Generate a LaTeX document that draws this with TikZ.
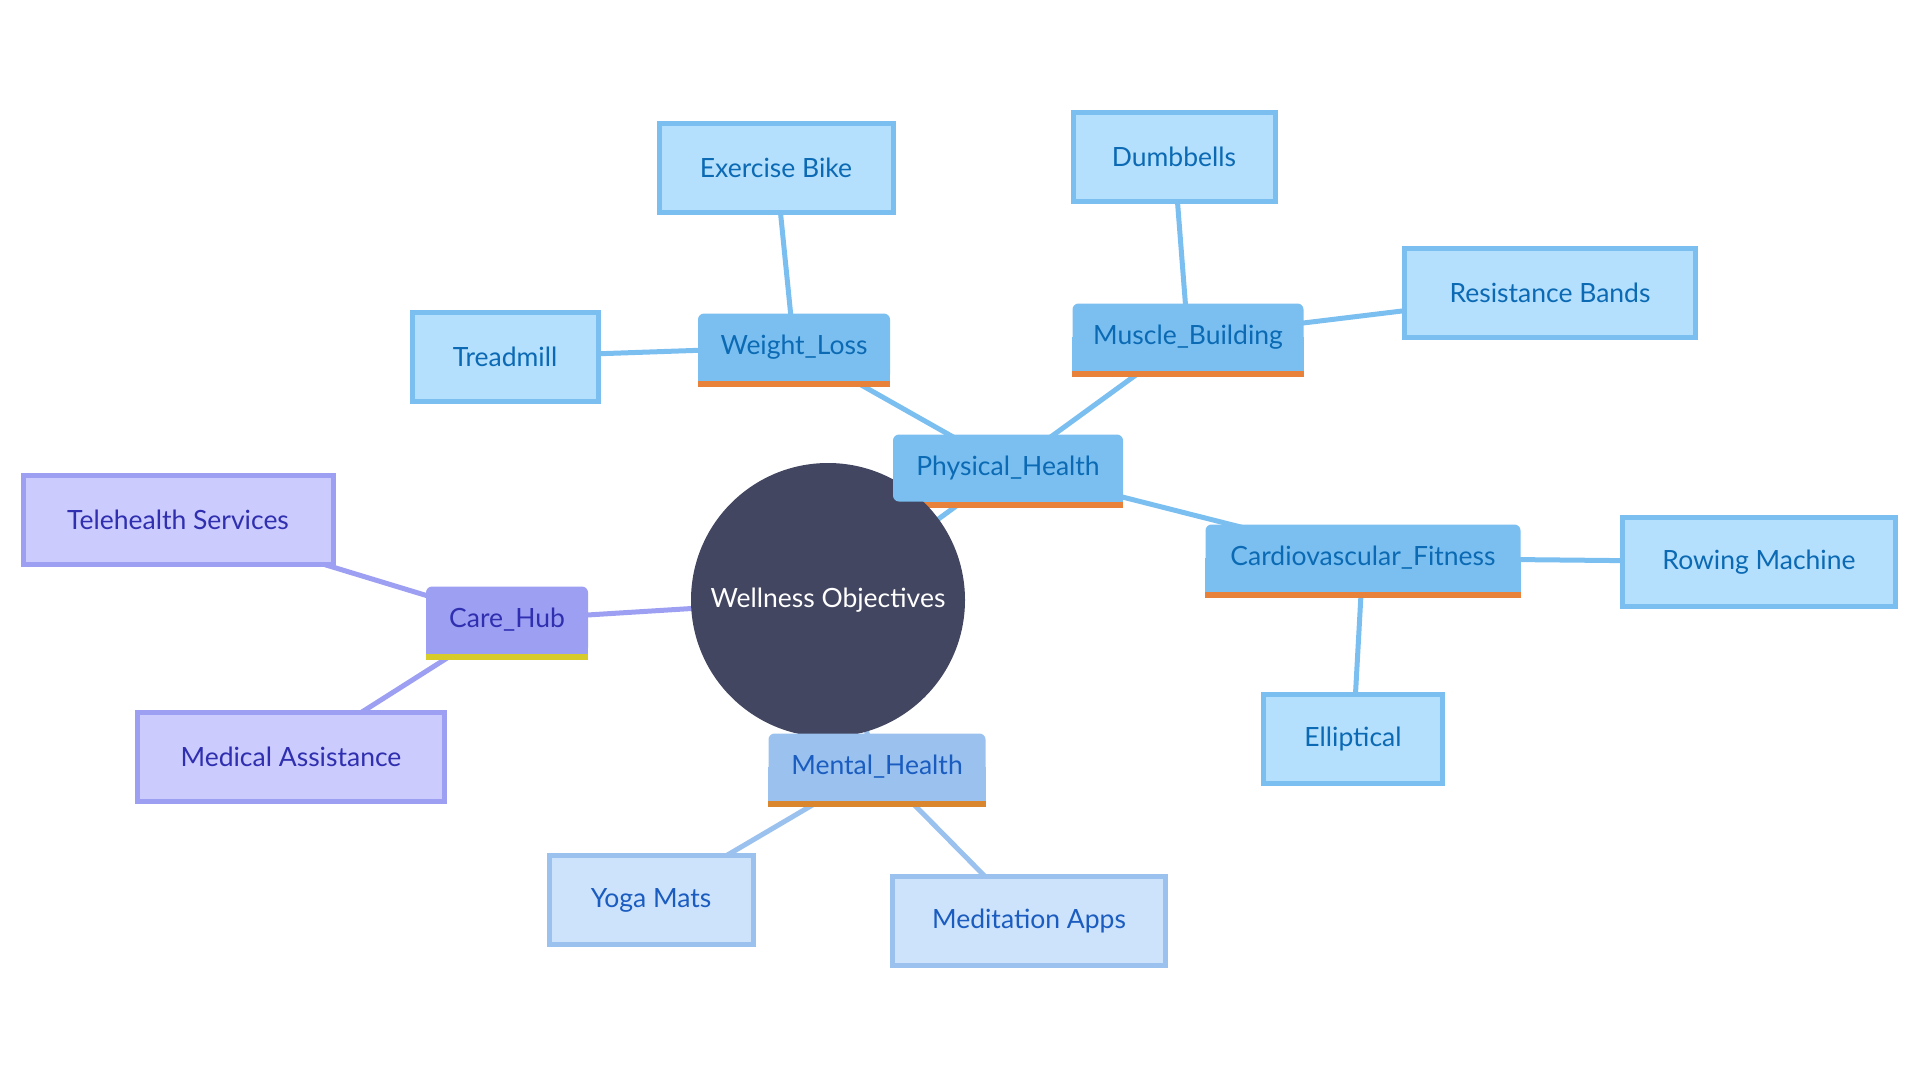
\documentclass[tikz,border=0pt]{standalone}
\usepackage{fontspec}
\setmainfont{Lato}
\pgfdeclarelayer{edgelayer}
\pgfdeclarelayer{filllayer}
\pgfsetlayers{edgelayer,filllayer,main}
\definecolor{rootfill}{HTML}{424660}
\definecolor{phfill}{HTML}{7ABFF0}
\definecolor{phleaf}{HTML}{B4DFFD}
\definecolor{phtext}{HTML}{0B6AB3}
\definecolor{phbar}{HTML}{E8823A}
\definecolor{mhfill}{HTML}{9BC2EF}
\definecolor{mhleaf}{HTML}{CDE2FB}
\definecolor{mhtext}{HTML}{1A5CBF}
\definecolor{mhbar}{HTML}{D9862E}
\definecolor{chfill}{HTML}{9D9FF2}
\definecolor{chleaf}{HTML}{CBCBFD}
\definecolor{chtext}{HTML}{2F2FB0}
\definecolor{chbar}{HTML}{D6CB2B}
\tikzset{
  txt/.style={font=\fontsize{26.5}{30}\selectfont},
  sec/.style={txt, rounded corners=6pt, minimum height=67pt, inner sep=0pt},
  phsec/.style={sec, fill=phfill, text=phtext},
  mhsec/.style={sec, fill=mhfill, text=mhtext},
  chsec/.style={sec, fill=chfill, text=chtext},
  leafbox/.style={txt, draw, line width=5pt, minimum height=89pt, inner sep=0pt},
  phlf/.style={leafbox, fill=phleaf, draw=phfill, text=phtext},
  mhlf/.style={leafbox, fill=mhleaf, draw=mhfill, text=mhtext},
  chlf/.style={leafbox, fill=chleaf, draw=chfill, text=chtext},
  edge/.style={line width=5pt},
  phedge/.style={edge, draw=phfill},
  mhedge/.style={edge, draw=mhfill},
  chedge/.style={edge, draw=chfill},
}
\begin{document}
\begin{tikzpicture}[x=1pt,y=-1pt]
\useasboundingbox (0,0) rectangle (1920,1080);
% root
\node[circle, fill=rootfill, minimum size=274pt, inner sep=0pt, text=white, txt] (root) at (828,600) {Wellness Objectives};
% sections
\node[phsec, minimum width=230pt] (ph) at (1008,468) {Physical\_Health};
\node[phsec, minimum width=192pt] (wl) at (794,347) {Weight\_Loss};
\node[phsec, minimum width=231pt] (mb) at (1188,337) {Muscle\_Building};
\node[phsec, minimum width=315pt] (cf) at (1363,558) {Cardiovascular\_Fitness};
\node[chsec, minimum width=162pt] (ch) at (507,620) {Care\_Hub};
\node[mhsec, minimum width=217pt] (mh) at (877,767) {Mental\_Health};
% leaves
\node[phlf, minimum width=234pt] (eb) at (776,168) {Exercise Bike};
\node[phlf, minimum width=186pt] (tm) at (505,357) {Treadmill};
\node[phlf, minimum width=202pt] (db) at (1174,157) {Dumbbells};
\node[phlf, minimum width=291pt] (rb) at (1550,293) {Resistance Bands};
\node[phlf, minimum width=273pt] (rm) at (1759,562) {Rowing Machine};
\node[phlf, minimum width=179pt] (el) at (1353,739) {Elliptical};
\node[chlf, minimum width=310pt] (ts) at (178,520) {Telehealth Services};
\node[chlf, minimum width=307pt] (ma) at (291,757) {Medical Assistance};
\node[mhlf, minimum width=204pt] (ym) at (651,900) {Yoga Mats};
\node[mhlf, minimum width=273pt] (md) at (1029,921) {Meditation Apps};
% square bottoms and bars
\begin{pgfonlayer}{filllayer}
\foreach \n/\f/\b in {ph/phfill/phbar, wl/phfill/phbar, mb/phfill/phbar, cf/phfill/phbar, ch/chfill/chbar, mh/mhfill/mhbar}{
  \fill[\f] (\n.west) rectangle (\n.south east);
  \fill[\b] (\n.south west) rectangle ([yshift=-6pt]\n.south east);
}
\end{pgfonlayer}
% edges
\begin{pgfonlayer}{edgelayer}
\draw[phedge] (root.center) -- (ph.center);
\draw[chedge] (root.center) -- (ch.center);
\draw[mhedge] (root.center) -- (mh.center);
\draw[phedge] (ph.center) -- (wl.center);
\draw[phedge] (ph.center) -- (mb.center);
\draw[phedge] (ph.center) -- (cf.center);
\draw[phedge] (wl.center) -- (eb.center);
\draw[phedge] (wl.center) -- (tm.center);
\draw[phedge] (mb.center) -- (db.center);
\draw[phedge] (mb.center) -- (rb.center);
\draw[phedge] (cf.center) -- (rm.center);
\draw[phedge] (cf.center) -- (el.center);
\draw[chedge] (ch.center) -- (ts.center);
\draw[chedge] (ch.center) -- (ma.center);
\draw[mhedge] (mh.center) -- (ym.center);
\draw[mhedge] (mh.center) -- (md.center);
\end{pgfonlayer}
\end{tikzpicture}
\end{document}
